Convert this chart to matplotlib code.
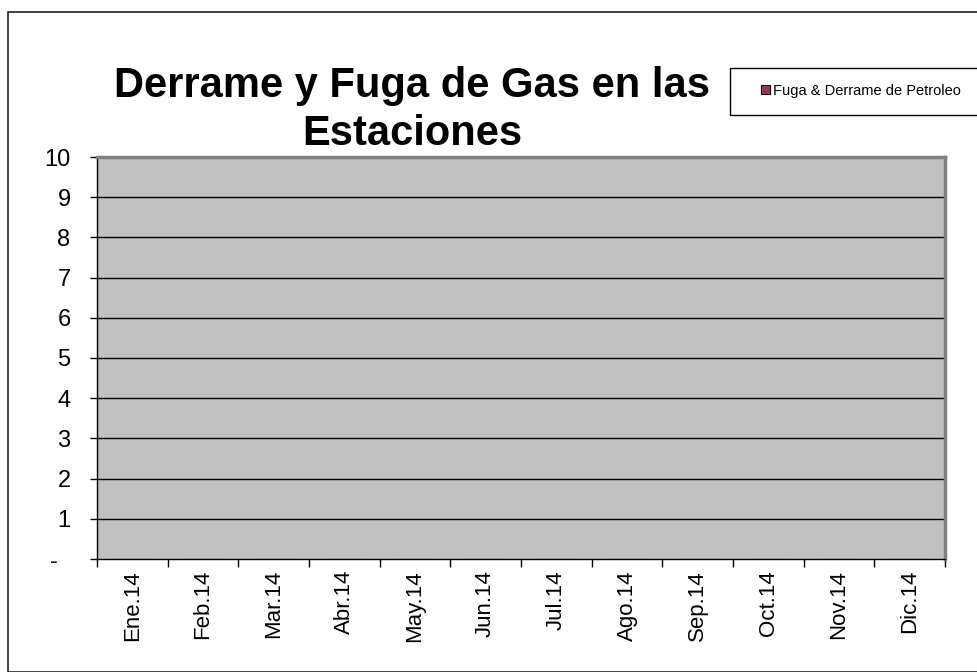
import matplotlib.pyplot as plt
from matplotlib.patches import Rectangle
import numpy as np

plt.rcParams['font.family'] = ['Liberation Sans', 'DejaVu Sans']

meses = ['Ene.14', 'Feb.14', 'Mar.14', 'Abr.14', 'May.14', 'Jun.14',
         'Jul.14', 'Ago.14', 'Sep.14', 'Oct.14', 'Nov.14', 'Dic.14']
fuga_derrame = [0, 0, 0, 0, 0, 0, 0, 0, 0, 0, 0, 0]
y_ticks = [0, 1, 2, 3, 4, 5, 6, 7, 8, 9, 10]
y_labels = ['-  ', '1', '2', '3', '4', '5', '6', '7', '8', '9', '10']

W, H = 978, 672
fig = plt.figure(figsize=(W / 100, H / 100), dpi=100)

# borde exterior del grafico
fig.patches.append(Rectangle((8 / W, 0), 1.0, 1 - 12 / H, transform=fig.transFigure,
                             fill=False, edgecolor='#222222', linewidth=1.2))

ax = fig.add_axes([97 / W, 1 - 559 / H, (945 - 97) / W, (559 - 157) / H])
ax.set_facecolor('#c0c0c0')

x = np.arange(len(meses))
ax.bar(x, fuga_derrame, width=0.5, color='#993366', edgecolor='black',
       linewidth=0.8, label='Fuga & Derrame de Petroleo')

ax.set_xlim(-0.5, len(meses) - 0.5)
ax.set_ylim(0, 10)
ax.set_yticks(y_ticks)
ax.set_yticklabels(y_labels, fontsize=17)
ax.set_xticks(x)
ax.set_xticklabels(meses, rotation=90, fontsize=16)
ax.tick_params(axis='x', length=0, pad=8)
ax.set_xticks(np.arange(-0.5, len(meses), 1), minor=True)
ax.tick_params(axis='x', which='minor', length=6, width=1, color='black')
ax.tick_params(axis='y', length=5, width=1, color='black', pad=14)

for v in y_ticks[1:-1]:
    ax.axhline(v, color='black', linewidth=1)

ax.spines['left'].set_color('black')
ax.spines['bottom'].set_color('black')
ax.spines['top'].set_color('#808080')
ax.spines['right'].set_color('#808080')
ax.spines['top'].set_linewidth(2.5)
ax.spines['right'].set_linewidth(2.5)
ax.spines['left'].set_linewidth(1)
ax.spines['bottom'].set_linewidth(1)

fig.text(412 / W, 1 - 110 / H, 'Derrame y Fuga de Gas en las\nEstaciones',
         ha='center', va='center', fontsize=30, fontweight='bold', linespacing=1.25)

# caja de la leyenda
fig.patches.append(Rectangle((730 / W, 1 - 115 / H), 260 / W, 47 / H,
                             transform=fig.transFigure, facecolor='white',
                             edgecolor='black', linewidth=1))
leg = fig.legend(loc='center', bbox_to_anchor=(861 / W, 1 - 91 / H),
                 frameon=False, fontsize=10.5, handlelength=0.6,
                 handleheight=0.6, handletextpad=0.2, borderaxespad=0)

fig.savefig('out.png', dpi=100)
